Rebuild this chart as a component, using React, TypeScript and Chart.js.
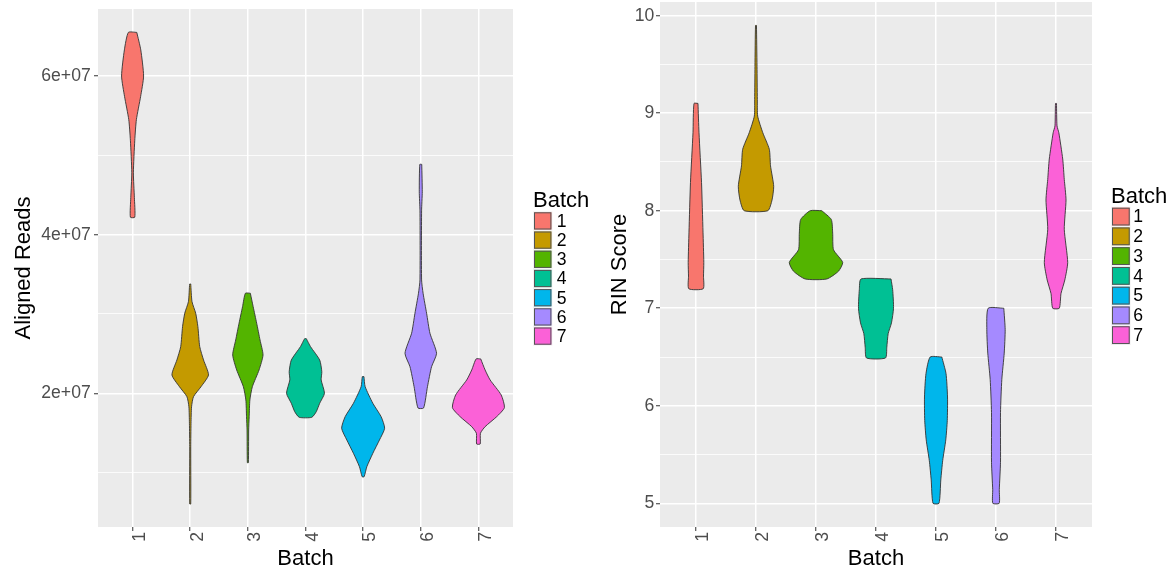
import React, { useEffect, useRef } from 'react';
import { Chart, registerables } from 'chart.js';

Chart.register(...registerables);

const FONT = '"Liberation Sans", Arial, Helvetica, sans-serif';

const batches = ['1', '2', '3', '4', '5', '6', '7'];
const batchColors = ['#F8766D', '#C49A00', '#53B400', '#00C094', '#00B6EB', '#A58AFF', '#FB61D7'];

// Aligned Reads violin outlines: [value, half-width in batch units], top to bottom
const reads1 = [[6.55e7, 0.073], [6.33e7, 0.142], [6.0e7, 0.191], [5.74e7, 0.139], [5.45e7, 0.066], [5.19e7, 0.038], [4.78e7, 0.014], [4.47e7, 0.031], [4.22e7, 0.038]];
const reads2 = [[3.378e7, 0.009], [3.155e7, 0.031], [3.009e7, 0.095], [2.84e7, 0.133], [2.588e7, 0.165], [2.42e7, 0.231], [2.231e7, 0.317], [2.083e7, 0.187], [1.957e7, 0.057], [1.83e7, 0.023], [1.622e7, 0.014], [1.327e7, 0.009], [0.604e7, 0.009]];
const reads3 = [[3.261e7, 0.043], [3.092e7, 0.092], [2.883e7, 0.153], [2.672e7, 0.211], [2.483e7, 0.263], [2.294e7, 0.194], [2.083e7, 0.078], [1.916e7, 0.035], [1.705e7, 0.023], [1.537e7, 0.014], [1.125e7, 0.009]];
const reads4 = [[2.689e7, 0.014], [2.588e7, 0.087], [2.42e7, 0.246], [2.272e7, 0.283], [2.168e7, 0.272], [2.0e7, 0.329], [1.874e7, 0.246], [1.768e7, 0.187], [1.697e7, 0.109]];
const reads5 = [[2.21e7, 0.014], [2.083e7, 0.035], [1.874e7, 0.168], [1.705e7, 0.312], [1.559e7, 0.373], [1.411e7, 0.283], [1.243e7, 0.168], [1.074e7, 0.064], [0.948e7, 0.017]];
const reads6 = [[4.886e7, 0.017], [4.54e7, 0.026], [4.3e7, 0.014], [3.429e7, 0.014], [3.261e7, 0.04], [3.009e7, 0.101], [2.757e7, 0.159], [2.504e7, 0.274], [2.335e7, 0.187], [2.083e7, 0.116], [1.815e7, 0.049]];
const reads7 = [[2.433e7, 0.04], [2.294e7, 0.116], [2.168e7, 0.203], [1.979e7, 0.395], [1.819e7, 0.451], [1.705e7, 0.317], [1.579e7, 0.116], [1.496e7, 0.035], [1.361e7, 0.031]];

// RIN Score violin outlines: [value, half-width in batch units], top to bottom
const rin1 = [[9.1, 0.033], [8.8, 0.05], [8.29, 0.092], [7.78, 0.117], [7.47, 0.13], [7.33, 0.125], [7.2, 0.12]];
const rin2 = [[9.9, 0.008], [9.48, 0.017], [9.14, 0.022], [8.97, 0.028], [8.8, 0.113], [8.63, 0.222], [8.46, 0.242], [8.25, 0.295], [8.11, 0.267], [8.0, 0.197]];
const rin3 = [[8.0, 0.097], [7.91, 0.255], [7.77, 0.278], [7.6, 0.292], [7.47, 0.445], [7.38, 0.375], [7.3, 0.18]];
const rin4 = [[7.3, 0.25], [7.19, 0.278], [7.0, 0.292], [6.85, 0.258], [6.74, 0.203], [6.6, 0.18], [6.49, 0.158]];
const rin5 = [[6.5, 0.097], [6.33, 0.167], [6.09, 0.192], [5.85, 0.188], [5.65, 0.163], [5.44, 0.112], [5.24, 0.08], [5.0, 0.05]];
const rin6 = [[7.0, 0.13], [6.78, 0.153], [6.54, 0.137], [6.27, 0.097], [5.93, 0.075], [5.42, 0.075], [5.14, 0.055], [5.0, 0.053]];
const rin7 = [[9.1, 0.008], [8.87, 0.017], [8.8, 0.047], [8.53, 0.112], [8.32, 0.138], [8.11, 0.167], [7.81, 0.138], [7.47, 0.195], [7.29, 0.147], [7.15, 0.083], [7.0, 0.055]];

const readsMajorTicks = [2e7, 4e7, 6e7];
const readsMinorTicks = [1e7, 3e7, 5e7];
const readsTickLabels = ['2e+07', '4e+07', '6e+07'];

const rinMajorTicks = [5, 6, 7, 8, 9, 10];
const rinMinorTicks = [5.5, 6.5, 7.5, 8.5, 9.5];
const rinTickLabels = ['5', '6', '7', '8', '9', '10'];

function violinPoints(center: number, prof: number[][]) {
  const right = prof.map(([v, w]) => ({ x: center + w, y: v }));
  const left = prof.slice().reverse().map(([v, w]) => ({ x: center - w, y: v }));
  return [...right, ...left, right[0]];
}

type PanelProps = {
  pageLeft: number;
  width: number;
  profiles: number[][][];
  yMin: number;
  yMax: number;
  majorTicks: number[];
  minorTicks: number[];
  tickLabels: string[];
  yTitle: string;
  area: { left: number; right: number; top: number; bottom: number };
  titleSize: number;
  tickSize: number;
  yTitlePad: number;
  yTickPad: number;
  legend: { x: number; titleY: number; keyTop: number; keyH: number; keyW: number; labelX: number };
};

function ViolinPanel(p: PanelProps) {
  const ref = useRef<HTMLCanvasElement | null>(null);
  useEffect(() => {
    if (!ref.current) return;
    const H = 573;
    const isMinor = (v: number) => p.minorTicks.some((m) => Math.abs(m - v) < 1e-9 * Math.max(1, Math.abs(m)));
    const datasets = p.profiles.map((prof, i) => ({
      label: batches[i],
      data: violinPoints(i + 1, prof),
      showLine: true,
      fill: 'shape',
      backgroundColor: batchColors[i],
      borderColor: '#333333',
      borderWidth: 0.9,
      pointRadius: 0,
      pointHoverRadius: 0,
      tension: 0.2,
    }));
    const bgPlugin = {
      id: 'panelBg',
      beforeDraw(chart: any) {
        const { ctx, chartArea: a } = chart;
        ctx.save();
        ctx.fillStyle = '#EBEBEB';
        ctx.fillRect(a.left, a.top, a.right - a.left, a.bottom - a.top);
        ctx.restore();
      },
    };
    const L = p.legend;
    const legendPlugin = {
      id: 'batchLegend',
      afterDraw(chart: any) {
        const ctx = chart.ctx;
        ctx.save();
        ctx.fillStyle = '#000000';
        ctx.font = `${p.titleSize}px ${FONT}`;
        ctx.textAlign = 'left';
        ctx.textBaseline = 'alphabetic';
        ctx.fillText('Batch', L.x, L.titleY);
        batches.forEach((b, i) => {
          const y = L.keyTop + i * L.keyH;
          ctx.fillStyle = '#F2F2F2';
          ctx.fillRect(L.x, y, L.keyW, L.keyH);
          ctx.fillStyle = batchColors[i];
          ctx.fillRect(L.x + 1, y + 1, L.keyW - 2, L.keyH - 2);
          ctx.strokeStyle = '#555555';
          ctx.lineWidth = 1;
          ctx.strokeRect(L.x + 1.5, y + 1.5, L.keyW - 3, L.keyH - 3);
          ctx.fillStyle = '#000000';
          ctx.font = `${p.tickSize}px ${FONT}`;
          ctx.textBaseline = 'middle';
          ctx.fillText(b, L.labelX, y + L.keyH / 2 + 1);
        });
        ctx.restore();
      },
    };
    const chart = new Chart(ref.current, {
      type: 'line',
      data: { datasets: datasets as any },
      options: {
        animation: false,
        responsive: false,
        maintainAspectRatio: false,
        events: [],
        layout: { padding: { left: 0, top: p.area.top, right: p.width - p.area.right, bottom: 0 } },
        plugins: { legend: { display: false }, tooltip: { enabled: false } },
        scales: {
          x: {
            type: 'linear',
            min: 0.4,
            max: 7.6,
            afterBuildTicks: (s: any) => {
              s.ticks = batches.map((_, i) => ({ value: i + 1 }));
            },
            afterFit: (s: any) => {
              s.height = H - p.area.bottom;
              s.paddingLeft = 0;
              s.paddingRight = 0;
            },
            ticks: {
              autoSkip: false,
              minRotation: 90,
              maxRotation: 90,
              padding: 1,
              labelOffset: 7.5,
              color: '#4D4D4D',
              font: { family: FONT, size: p.tickSize },
              callback: (_v: any, i: number) => batches[i],
            },
            grid: { color: '#FFFFFF', lineWidth: 1.5, tickLength: 4, tickColor: '#333333', tickWidth: 1 },
            border: { display: false },
            title: {
              display: true,
              text: 'Batch',
              color: '#000000',
              font: { family: FONT, size: p.titleSize },
              padding: { top: 0, bottom: 1.3 },
            },
          },
          y: {
            type: 'linear',
            min: p.yMin,
            max: p.yMax,
            afterBuildTicks: (s: any) => {
              s.ticks = [...p.majorTicks, ...p.minorTicks].sort((a, b) => a - b).map((v) => ({ value: v }));
            },
            afterFit: (s: any) => {
              s.width = p.area.left;
              s.paddingTop = 0;
              s.paddingBottom = 0;
            },
            ticks: {
              autoSkip: false,
              padding: p.yTickPad,
              color: '#4D4D4D',
              font: { family: FONT, size: p.tickSize },
              callback: (v: any) => {
                const idx = p.majorTicks.findIndex((m) => Math.abs(m - v) < 1e-9 * Math.max(1, Math.abs(m)));
                return idx >= 0 ? p.tickLabels[idx] : '';
              },
            },
            grid: {
              color: '#FFFFFF',
              lineWidth: (c: any) => (isMinor(c.tick.value) ? 0.8 : 1.5),
              tickLength: 4,
              tickColor: (c: any) => (isMinor(c.tick.value) ? 'rgba(0,0,0,0)' : '#333333'),
              tickWidth: 1,
            },
            border: { display: false },
            title: {
              display: true,
              text: p.yTitle,
              color: '#000000',
              font: { family: FONT, size: p.titleSize },
              padding: { top: p.yTitlePad, bottom: 0 },
            },
          },
        },
      } as any,
      plugins: [bgPlugin, legendPlugin],
    });
    return () => chart.destroy();
  }, []);
  return (
    <canvas
      ref={ref}
      width={p.width}
      height={573}
      style={{ position: 'absolute', left: p.pageLeft, top: 0, width: p.width, height: 573 }}
    />
  );
}

export default function App() {
  return (
    <div style={{ position: 'absolute', left: 0, top: 0, width: 1173, height: 573, background: '#FFFFFF' }}>
      <ViolinPanel
        pageLeft={0}
        width={590}
        profiles={[reads1, reads2, reads3, reads4, reads5, reads6, reads7]}
        yMin={0.314e7}
        yMax={6.845e7}
        majorTicks={readsMajorTicks}
        minorTicks={readsMinorTicks}
        tickLabels={readsTickLabels}
        yTitle="Aligned Reads"
        area={{ left: 98, right: 513, top: 9, bottom: 527 }}
        titleSize={22}
        tickSize={17.6}
        yTitlePad={10.3}
        yTickPad={3.3}
        legend={{ x: 533, titleY: 206.5, keyTop: 211.3, keyH: 19.2, keyW: 19.4, labelX: 556.7 }}
      />
      <ViolinPanel
        pageLeft={590}
        width={583}
        profiles={[rin1, rin2, rin3, rin4, rin5, rin6, rin7]}
        yMin={4.757}
        yMax={10.14}
        majorTicks={rinMajorTicks}
        minorTicks={rinMinorTicks}
        tickLabels={rinTickLabels}
        yTitle="RIN Score"
        area={{ left: 70, right: 502, top: 2, bottom: 527 }}
        titleSize={22}
        tickSize={17.6}
        yTitlePad={16.8}
        yTickPad={1.8}
        legend={{ x: 521, titleY: 202.5, keyTop: 206.7, keyH: 19.76, keyW: 19.7, labelX: 543.3 }}
      />
    </div>
  );
}
